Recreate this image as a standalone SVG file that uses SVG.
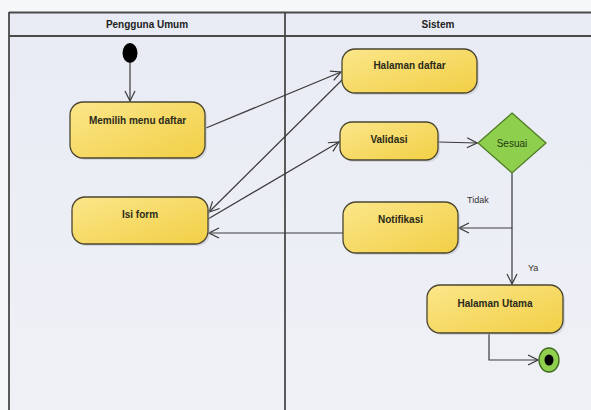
<svg xmlns="http://www.w3.org/2000/svg" width="591" height="410" viewBox="0 0 591 410">
<defs>
<linearGradient id="yel" x1="0" y1="0" x2="1" y2="1">
<stop offset="0" stop-color="#fbe68a"/>
<stop offset="1" stop-color="#f2cf45"/>
</linearGradient>
<linearGradient id="bg" x1="0" y1="0" x2="0" y2="1">
<stop offset="0" stop-color="#e8ebf4"/>
<stop offset="1" stop-color="#eff1f6"/>
</linearGradient>
<marker id="arr" viewBox="0 0 12 12" refX="11" refY="6" markerWidth="12" markerHeight="12" markerUnits="userSpaceOnUse" orient="auto">
<path d="M1,1 L11,6 L1,11" fill="none" stroke="#3a3a3a" stroke-width="1.2"/>
</marker>
</defs>
<style>
.lane{fill:none;stroke:#4a4a4a;stroke-width:1.8}
.hdr{font-family:"Liberation Sans",Arial,sans-serif;font-size:10px;font-weight:bold;fill:#222;text-anchor:middle}
.node rect.b{fill:url(#yel);stroke:#4a4530;stroke-width:1.3}
.node rect.s{fill:#b8b8c0;opacity:0.45}
.lbl{font-family:"Liberation Sans",Arial,sans-serif;font-size:10px;font-weight:bold;fill:#2a2a1a;text-anchor:middle}
.edge{fill:none;stroke:#3a3a3a;stroke-width:1.2;marker-end:url(#arr)}
.guard{font-family:"Liberation Sans",Arial,sans-serif;font-size:9px;fill:#333}
</style>
<rect x="0" y="0" width="591" height="410" fill="#f6f7f9"/>
<rect x="9" y="12" width="582" height="398" fill="url(#bg)"/>
<g id="lanes">
<line class="lane" x1="9" y1="12.5" x2="591" y2="12.5"/>
<line class="lane" x1="9" y1="36" x2="591" y2="36"/>
<line class="lane" x1="9" y1="12" x2="9" y2="410"/>
<line class="lane" x1="285" y1="12" x2="285" y2="410"/>
<text class="hdr" x="147" y="28">Pengguna Umum</text>
<text class="hdr" x="438" y="28">Sistem</text>
</g>
<g id="connectors">
<line class="edge" x1="130" y1="63" x2="130" y2="101"/>
<line class="edge" x1="206" y1="128" x2="341" y2="72"/>
<line class="edge" x1="343" y1="79" x2="209" y2="212"/>
<line class="edge" x1="208" y1="219" x2="339" y2="142"/>
<line class="edge" x1="438" y1="142" x2="477" y2="143"/>
<polyline class="edge" points="512,173 512,228 459,228"/>
<line class="edge" x1="512" y1="228" x2="512" y2="284"/>
<line class="edge" x1="343" y1="233" x2="209" y2="233"/>
<polyline class="edge" points="489,333 489,360 538,360"/>
<text class="guard" x="467" y="203">Tidak</text>
<text class="guard" x="528" y="271">Ya</text>
</g>
<g id="start">
<ellipse cx="130" cy="53" rx="7.5" ry="10" fill="#000"/>
</g>
<g id="memilih" class="node">
<rect class="s" x="72" y="104" width="135" height="56" rx="13"/>
<rect class="b" x="70" y="102" width="135" height="56" rx="13"/>
<text class="lbl" x="137.5" y="124">Memilih menu daftar</text>
</g>
<g id="isiform" class="node">
<rect class="s" x="74" y="199" width="136" height="47" rx="13"/>
<rect class="b" x="72" y="197" width="136" height="47" rx="13"/>
<text class="lbl" x="140" y="218">Isi form</text>
</g>
<g id="halamandaftar" class="node">
<rect class="s" x="344" y="51" width="135" height="44" rx="13"/>
<rect class="b" x="342" y="49" width="135" height="44" rx="13"/>
<text class="lbl" x="409.5" y="69">Halaman daftar</text>
</g>
<g id="validasi" class="node">
<rect class="s" x="342" y="124" width="98" height="38" rx="12"/>
<rect class="b" x="340" y="122" width="98" height="38" rx="12"/>
<text class="lbl" x="389" y="143">Validasi</text>
</g>
<g id="sesuai">
<polygon points="512,113 546,143 512,173 478,143" fill="#8fcf4e" stroke="#4f7d26" stroke-width="1.3"/>
<text x="512" y="147" font-family="'Liberation Sans',Arial,sans-serif" font-size="10" fill="#1f3a10" text-anchor="middle">Sesuai</text>
</g>
<g id="notifikasi" class="node">
<rect class="s" x="345" y="204" width="115" height="51" rx="13"/>
<rect class="b" x="343" y="202" width="115" height="51" rx="13"/>
<text class="lbl" x="400.5" y="223">Notifikasi</text>
</g>
<g id="halamanutama" class="node">
<rect class="s" x="429" y="287" width="136" height="48" rx="13"/>
<rect class="b" x="427" y="285" width="136" height="48" rx="13"/>
<text class="lbl" x="495" y="307">Halaman Utama</text>
</g>
<g id="end">
<ellipse cx="549" cy="360" rx="10" ry="12" fill="#8fd14f" stroke="#3f6a1e" stroke-width="1.3"/>
<ellipse cx="549" cy="360" rx="4.5" ry="5.5" fill="#000"/>
</g>
</svg>
